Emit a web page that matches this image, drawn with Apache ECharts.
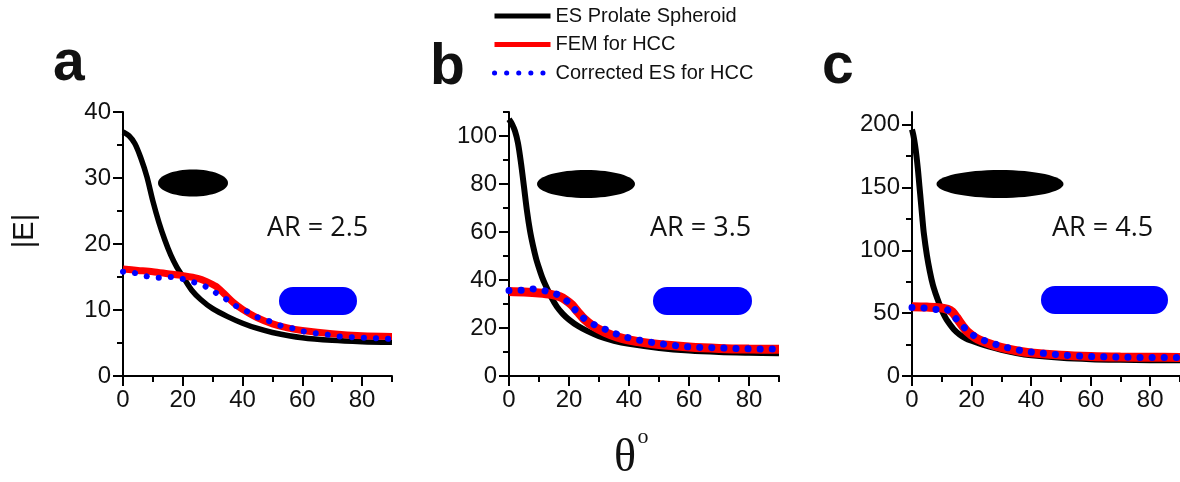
<!DOCTYPE html>
<html>
<head>
<meta charset="utf-8">
<script src="https://cdn.jsdelivr.net/npm/echarts@6/dist/echarts.min.js"></script>
<style>
  html, body { margin: 0; padding: 0; background: #fff; }
  #chart { width: 1180px; height: 482px; }
</style>
</head>
<body>
<div id="chart"></div>
<script>
var seriesNames = ['ES Prolate Spheroid', 'FEM for HCC', 'Corrected ES for HCC'];

// panel a, AR = 2.5
var thetaBlackA = [0, 2, 4, 6, 8, 10, 12, 14, 16, 18, 20, 23, 26, 30, 35, 40, 45, 50, 60, 70, 80, 90];
var blackA = [37.0, 36.4, 35.2, 33.0, 30.2, 26.5, 23.3, 20.6, 18.3, 16.5, 15.1, 13.0, 11.6, 10.2, 9.0, 8.0, 7.2, 6.6, 5.8, 5.4, 5.2, 5.1];
var thetaRedA = [0, 5, 10, 15, 20, 25, 28, 31, 34, 37, 40, 45, 50, 55, 60, 70, 80, 90];
var redA = [16.2, 16.0, 15.8, 15.5, 15.2, 14.8, 14.3, 13.6, 12.4, 11.1, 10.1, 8.8, 7.9, 7.3, 6.9, 6.4, 6.1, 6.0];
var thetaBlueA = [0, 4, 8, 12, 16, 20, 23, 27, 30, 34, 37, 41, 45, 49, 53, 57, 60, 64, 68, 72, 76, 80, 84, 88, 90];
var blueA = [15.8, 15.6, 15.1, 14.9, 15.0, 14.7, 14.3, 13.7, 12.9, 11.8, 10.8, 9.9, 8.9, 8.3, 7.6, 7.2, 6.8, 6.5, 6.3, 6.0, 5.9, 5.8, 5.75, 5.65, 5.6];

// panel b, AR = 3.5
var thetaBlackB = [0, 1, 2, 3, 4, 5, 6, 7, 8, 9, 10, 11, 12, 14, 16, 18, 20, 23, 26, 30, 35, 40, 50, 60, 70, 80, 90];
var blackB = [107, 105, 102, 97, 88.7, 78.8, 68.7, 60.5, 54.3, 49.1, 45, 41.3, 38.3, 33.1, 28.8, 25.8, 23.5, 20.8, 18.8, 16.6, 14.7, 13.4, 11.7, 10.6, 10.0, 9.7, 9.5];
var thetaRedB = [0, 5, 10, 14, 17, 19, 21, 23, 25, 28, 32, 36, 40, 45, 50, 60, 70, 80, 90];
var redB = [35.2, 35.0, 34.6, 34.0, 33.0, 31.6, 29.6, 26.6, 23.8, 20.8, 18.2, 16.3, 15.0, 13.9, 13.1, 12.1, 11.5, 11.2, 11.1];
var thetaBlueB = [0, 4, 8, 12, 16, 20, 22, 25, 29, 33, 36, 40, 44, 48, 52, 56, 60, 64, 68, 72, 76, 80, 84, 88, 90];
var blueB = [35.6, 35.7, 36.3, 35.5, 34.0, 30.5, 27.6, 24.0, 21.0, 19.0, 17.4, 15.9, 14.8, 13.9, 13.2, 12.6, 12.1, 11.9, 11.8, 11.6, 11.4, 11.3, 11.2, 11.2, 11.2];

// panel c, AR = 4.5
var thetaBlackC = [0, 0.5, 1, 1.5, 2, 2.5, 3, 3.5, 4, 5, 6, 7, 8, 9, 10, 11, 12, 14, 16, 18, 20, 23, 26, 30, 35, 40, 50, 60, 70, 80, 90];
var blackC = [196, 191, 184, 175, 164, 151, 138, 125, 113, 96, 83, 72.5, 65, 58.5, 52.5, 47.5, 43.5, 37.2, 33, 30, 28, 25.5, 23.3, 20.8, 18.3, 16.5, 14.5, 13.4, 12.9, 12.6, 12.5];
var thetaRedC = [0, 5, 9, 12, 13.5, 15, 16, 17, 18.5, 20, 22, 25, 28, 32, 36, 40, 50, 60, 70, 80, 90];
var redC = [55, 54.8, 54.4, 53, 51, 46.5, 43, 39.8, 35.5, 32.6, 29.4, 26.4, 24, 21.6, 19.7, 18.4, 16.6, 15.6, 15.1, 14.9, 14.8];
var thetaBlueC = [0, 3.6, 7.4, 10.9, 13.9, 16.5, 18.9, 22.5, 26.5, 30.5, 34.5, 38.5, 43, 47, 51, 55, 59, 63, 67, 71.5, 75.5, 79.5, 83.5, 87.5, 90];
var blueC = [54.5, 54.2, 52.9, 53.7, 47.6, 41.3, 35.2, 29.9, 26.5, 23.5, 21.2, 19.5, 18.3, 17.4, 16.6, 16.0, 15.6, 15.3, 15.1, 14.9, 14.8, 14.7, 14.7, 14.7, 14.7];

// axis ticks
var xMajor = [0, 20, 40, 60, 80];
var xMinor = [10, 30, 50, 70, 90];
var yMaxA = 40, yMajorA = [0, 10, 20, 30, 40], yMinorA = [5, 15, 25, 35];
var yMaxB = 110, yMajorB = [0, 20, 40, 60, 80, 100], yMinorB = [10, 30, 50, 70, 90, 110];
var yMaxC = 210, yMajorC = [0, 50, 100, 150, 200], yMinorC = [25, 75, 125, 175];
var arLabels = ['AR = 2.5', 'AR = 3.5', 'AR = 4.5'];
var panelLetters = ['a', 'b', 'c'];

var chart = echarts.init(document.getElementById('chart'), null, { renderer: 'canvas' });

function zip(xs, ys) {
  var out = [];
  for (var i = 0; i < xs.length; i++) out.push([xs[i], ys[i]]);
  return out;
}

var tickFont = { fontSize: 24, fontFamily: 'Liberation Sans', color: '#111' };

function xAxes(gi) {
  return [{
    gridIndex: gi, type: 'value', min: 0, max: 90, position: 'bottom',
    axisLine: { lineStyle: { color: '#000', width: 2 } },
    axisTick: { customValues: xMajor, length: 10, lineStyle: { color: '#000', width: 2 } },
    axisLabel: Object.assign({ customValues: xMajor, margin: 12 }, tickFont),
    splitLine: { show: false }
  }, {
    gridIndex: gi, type: 'value', min: 0, max: 90, position: 'bottom',
    axisLine: { show: false },
    axisTick: { customValues: xMinor, length: 6, lineStyle: { color: '#000', width: 2 } },
    axisLabel: { show: false },
    splitLine: { show: false }
  }];
}

function yAxes(gi, max, major, minor) {
  return [{
    gridIndex: gi, type: 'value', min: 0, max: max, position: 'left',
    axisLine: { show: true, lineStyle: { color: '#000', width: 2 } },
    axisTick: { show: true, customValues: major, length: 10, lineStyle: { color: '#000', width: 2 } },
    axisLabel: Object.assign({ customValues: major, margin: 12 }, tickFont),
    splitLine: { show: false }
  }, {
    gridIndex: gi, type: 'value', min: 0, max: max, position: 'left',
    axisLine: { show: false },
    axisTick: { show: true, customValues: minor, length: 6, lineStyle: { color: '#000', width: 2 } },
    axisLabel: { show: false },
    splitLine: { show: false }
  }];
}

function panelSeries(gi, black, red, blue, w) {
  var base = { type: 'line', xAxisIndex: gi * 2, yAxisIndex: gi * 2, symbol: 'none', smooth: 0.3, silent: true };
  return [
    Object.assign({}, base, { name: seriesNames[0], data: black, lineStyle: { color: '#000', width: w[0] }, itemStyle: { color: '#000' } }),
    Object.assign({}, base, { name: seriesNames[1], data: red, lineStyle: { color: '#ff0000', width: w[1] }, itemStyle: { color: '#ff0000' } }),
    Object.assign({}, base, { name: seriesNames[2], data: blue, lineStyle: { color: '#0000ff', width: w[2], type: [0.1, 12], cap: 'round' }, itemStyle: { color: '#0000ff' } })
  ];
}

function textEl(x, y, text, font, align, rot) {
  return {
    type: 'text', x: x, y: y, rotation: rot || 0, silent: true,
    style: { text: text, font: font, fill: '#111', align: align || 'left', verticalAlign: 'middle' }
  };
}

function setOptions() {
  var option = {
    animation: false,
    backgroundColor: '#fff',
    grid: [
      { left: 123, top: 112, width: 269, height: 264 },
      { left: 509, top: 112, width: 270, height: 264 },
      { left: 912, top: 112, width: 268, height: 264 }
    ],
    legend: {
      data: seriesNames,
      orient: 'vertical',
      left: 492, top: 6,
      itemWidth: 56, itemHeight: 20, itemGap: 8.5,
      padding: 0,
      itemStyle: { opacity: 0 },
      lineStyle: { width: 5 },
      textStyle: { fontSize: 20, fontFamily: 'Liberation Sans', color: '#111' }
    },
    xAxis: xAxes(0).concat(xAxes(1), xAxes(2)),
    yAxis: yAxes(0, yMaxA, yMajorA, yMinorA).concat(yAxes(1, yMaxB, yMajorB, yMinorB), yAxes(2, yMaxC, yMajorC, yMinorC)),
    series: []
      .concat(panelSeries(0, zip(thetaBlackA, blackA), zip(thetaRedA, redA), zip(thetaBlueA, blueA), [5.5, 7, 6]))
      .concat(panelSeries(1, zip(thetaBlackB, blackB), zip(thetaRedB, redB), zip(thetaBlueB, blueB), [6, 9, 7]))
      .concat(panelSeries(2, zip(thetaBlackC, blackC), zip(thetaRedC, redC), zip(thetaBlueC, blueC), [6, 9, 7])),
    graphic: [
      // shape sketches: prolate spheroid and hemisphere-capped cylinder
      { type: 'ellipse', silent: true, shape: { cx: 193, cy: 183, rx: 35, ry: 13.5 }, style: { fill: '#000' } },
      { type: 'ellipse', silent: true, shape: { cx: 586, cy: 184, rx: 49, ry: 14 }, style: { fill: '#000' } },
      { type: 'ellipse', silent: true, shape: { cx: 1000, cy: 184, rx: 63.5, ry: 14 }, style: { fill: '#000' } },
      { type: 'rect', silent: true, shape: { x: 279, y: 287, width: 78, height: 28, r: 14 }, style: { fill: '#0000ff' } },
      { type: 'rect', silent: true, shape: { x: 653, y: 287, width: 99, height: 28, r: 14 }, style: { fill: '#0000ff' } },
      { type: 'rect', silent: true, shape: { x: 1041, y: 286, width: 127, height: 28, r: 14 }, style: { fill: '#0000ff' } },
      textEl(267, 228, arLabels[0], '27px "Open Sans"'),
      textEl(650, 228, arLabels[1], '27px "Open Sans"'),
      textEl(1052, 228, arLabels[2], '27px "Open Sans"'),
      textEl(53, 64, panelLetters[0], 'bold 57px "Liberation Sans"'),
      textEl(430, 68, panelLetters[1], 'bold 57px "Liberation Sans"'),
      textEl(822, 67, panelLetters[2], 'bold 57px "Liberation Sans"'),
      textEl(25, 231, '|E|', '29px "Liberation Sans"', 'center', Math.PI / 2),
      textEl(625, 459, 'θ', '46px "Liberation Serif"', 'center'),
      textEl(643, 437, 'o', '22px "Liberation Serif"', 'center')
    ]
  };
  chart.setOption(option);
}

setOptions();
</script>
</body>
</html>
